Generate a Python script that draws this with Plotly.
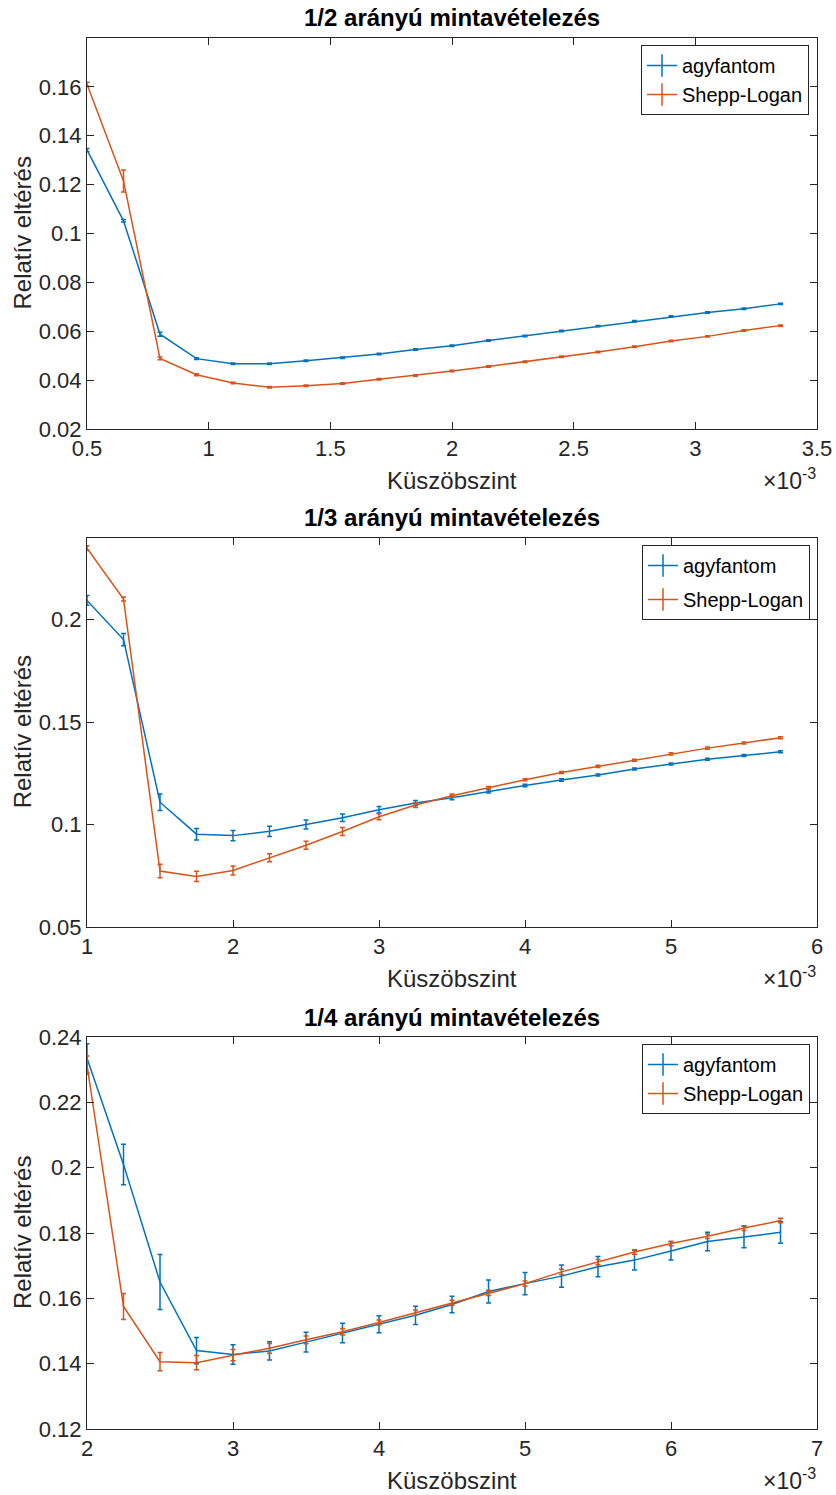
import plotly.graph_objects as go

# ---------------- data (x in units of 1e-3) ----------------
x1 = [0.5, 0.65, 0.8, 0.95, 1.1, 1.25, 1.4, 1.55, 1.7, 1.85, 2.0, 2.15, 2.3, 2.45, 2.6, 2.75, 2.9, 3.05, 3.2, 3.35]
agy1 = [0.1342, 0.1052, 0.0588, 0.0488, 0.0467, 0.0467, 0.0479, 0.0492, 0.0507, 0.0525,
        0.0541, 0.0562, 0.0581, 0.0601, 0.0621, 0.0641, 0.0660, 0.0677, 0.0692, 0.0712]
agy1_err = [0.0006, 0.0005, 0.0008, 0.0004, 0.0003, 0.0003, 0.0003, 0.0003, 0.0003, 0.0003,
            0.0003, 0.0003, 0.0003, 0.0003, 0.0003, 0.0003, 0.0003, 0.0003, 0.0003, 0.0003]
sl1 = [0.1611, 0.1215, 0.0489, 0.0422, 0.0388, 0.0371, 0.0377, 0.0386, 0.0404, 0.0419,
       0.0437, 0.0456, 0.0475, 0.0496, 0.0515, 0.0537, 0.0560, 0.0579, 0.0603, 0.0623]
sl1_err = [0.0008, 0.0045, 0.0006, 0.0004, 0.0003, 0.0003, 0.0003, 0.0003, 0.0003, 0.0003,
           0.0003, 0.0003, 0.0003, 0.0003, 0.0003, 0.0003, 0.0003, 0.0003, 0.0003, 0.0003]

x2 = [1.0, 1.25, 1.5, 1.75, 2.0, 2.25, 2.5, 2.75, 3.0, 3.25, 3.5, 3.75, 4.0, 4.25, 4.5, 4.75, 5.0, 5.25, 5.5, 5.75]
agy2 = [0.2094, 0.1903, 0.1109, 0.0953, 0.0946, 0.0967, 0.1000, 0.1033, 0.1072, 0.1105,
        0.1131, 0.1162, 0.1191, 0.1217, 0.1242, 0.1271, 0.1296, 0.1319, 0.1337, 0.1355]
agy2_err = [0.0024, 0.0030, 0.0040, 0.0028, 0.0025, 0.0025, 0.0022, 0.0018, 0.0016, 0.0012,
            0.0010, 0.0008, 0.0006, 0.0006, 0.0005, 0.0005, 0.0005, 0.0005, 0.0005, 0.0005]
sl2 = [0.2349, 0.2101, 0.0773, 0.0747, 0.0776, 0.0838, 0.0899, 0.0966, 0.1038, 0.1095,
       0.1141, 0.1180, 0.1219, 0.1254, 0.1284, 0.1314, 0.1345, 0.1373, 0.1398, 0.1424]
sl2_err = [0.0012, 0.0010, 0.0033, 0.0025, 0.0022, 0.0020, 0.0020, 0.0020, 0.0015, 0.0012,
           0.0008, 0.0006, 0.0005, 0.0005, 0.0005, 0.0005, 0.0005, 0.0005, 0.0005, 0.0005]

x3 = [2.0, 2.25, 2.5, 2.75, 3.0, 3.25, 3.5, 3.75, 4.0, 4.25, 4.5, 4.75, 5.0, 5.25, 5.5, 5.75, 6.0, 6.25, 6.5, 6.75]
agy3 = [0.2335, 0.2010, 0.1650, 0.1440, 0.1428, 0.1439, 0.1466, 0.1494, 0.1521, 0.1548,
        0.1581, 0.1621, 0.1645, 0.1668, 0.1697, 0.1717, 0.1745, 0.1774, 0.1788, 0.1802]
agy3_err = [0.0044, 0.0062, 0.0084, 0.0040, 0.0030, 0.0028, 0.0030, 0.0030, 0.0026, 0.0028,
            0.0025, 0.0035, 0.0034, 0.0034, 0.0031, 0.0030, 0.0028, 0.0028, 0.0033, 0.0033]
sl3 = [0.2314, 0.1575, 0.1406, 0.1403, 0.1426, 0.1447, 0.1473, 0.1498, 0.1526, 0.1556,
       0.1586, 0.1617, 0.1645, 0.1681, 0.1711, 0.1742, 0.1768, 0.1790, 0.1815, 0.1838]
sl3_err = [0.0028, 0.0040, 0.0028, 0.0022, 0.0017, 0.0015, 0.0012, 0.0010, 0.0008, 0.0008,
           0.0008, 0.0008, 0.0008, 0.0008, 0.0008, 0.0007, 0.0007, 0.0007, 0.0007, 0.0007]

titles = ["1/2 arányú mintavételezés", "1/3 arányú mintavételezés", "1/4 arányú mintavételezés"]
series_names = ["agyfantom", "Shepp-Logan"]
xlabel = "Küszöbszint"
ylabel = "Relatív eltérés"

x_ranges = [[0.5, 3.5], [1, 6], [2, 7]]
y_ranges = [[0.02, 0.18], [0.05, 0.24], [0.12, 0.24]]
x_dticks = [0.5, 1, 1]
y_ticks = [[0.02, 0.04, 0.06, 0.08, 0.1, 0.12, 0.14, 0.16],
           [0.05, 0.1, 0.15, 0.2],
           [0.12, 0.14, 0.16, 0.18, 0.2, 0.22, 0.24]]

# ---------------- style ----------------
W, H = 836, 1495
BLUE = "#0072BD"
ORANGE = "#D95319"
AX = "#262626"
FONT = "Liberation Sans, Arial, Helvetica, sans-serif"

# panel pixel geometry (left, right, top, bottom)
panels_px = [(87, 817, 38, 429), (87, 817, 537.7, 927), (87, 817, 1037, 1429)]

def px_x(p):
    return p / W

def px_y(p):
    return 1 - p / H

fig = go.Figure()

data = [
    (x1, agy1, agy1_err, sl1, sl1_err),
    (x2, agy2, agy2_err, sl2, sl2_err),
    (x3, agy3, agy3_err, sl3, sl3_err),
]

annotations = []
for i, (xs, a, ae, s, se) in enumerate(data):
    k = "" if i == 0 else str(i + 1)
    xa, ya = "x" + k, "y" + k
    leg = "legend" + k
    for name, ys, es, col in [(series_names[0], a, ae, BLUE), (series_names[1], s, se, ORANGE)]:
        fig.add_trace(go.Scatter(
            x=xs, y=ys, mode="lines", name=name, xaxis=xa, yaxis=ya,
            line=dict(color=col, width=1.5),
            error_y=dict(type="data", array=es, visible=True, color=col, thickness=1.5, width=2.5),
            showlegend=False, hoverinfo="skip"))
        # legend entry: line with vertical errorbar-like symbol
        fig.add_trace(go.Scatter(
            x=[None], y=[None], mode="lines+markers", name=name, xaxis=xa, yaxis=ya,
            line=dict(color=col, width=1.5),
            marker=dict(symbol="line-ns", size=20, color=col, line=dict(color=col, width=1.5)),
            legend=leg, legendgroup=name + k, showlegend=True))

    l, r, t, b = panels_px[i]
    fig.layout["xaxis" + k] = dict(
        domain=[px_x(l), px_x(r)], anchor=ya, range=x_ranges[i], dtick=x_dticks[i], tick0=0,
        showline=True, mirror="ticks", linecolor=AX, linewidth=1, ticks="inside", ticklen=7,
        tickcolor=AX, tickwidth=1, showgrid=False, zeroline=False, automargin=False,
        tickfont=dict(family=FONT, size=22, color=AX))
    fig.layout["yaxis" + k] = dict(
        domain=[px_y(b), px_y(t)], anchor=xa, range=y_ranges[i], tickvals=y_ticks[i],
        showline=True, mirror="ticks", linecolor=AX, linewidth=1, ticks="inside", ticklen=7,
        tickcolor=AX, tickwidth=1, showgrid=False, zeroline=False, automargin=False,
        tickfont=dict(family=FONT, size=22, color=AX))

    cx = px_x((l + r) / 2)
    annotations.append(dict(text="<b>" + titles[i] + "</b>", x=cx, y=px_y(t - 20),
                            xref="paper", yref="paper", xanchor="center", yanchor="middle",
                            showarrow=False, font=dict(family=FONT, size=24, color="black")))
    annotations.append(dict(text=xlabel, x=cx, y=px_y(b + 51),
                            xref="paper", yref="paper", xanchor="center", yanchor="middle",
                            showarrow=False, font=dict(family=FONT, size=24, color=AX)))
    annotations.append(dict(text=ylabel, x=px_x(22), y=px_y((t + b) / 2), textangle=-90,
                            xref="paper", yref="paper", xanchor="center", yanchor="middle",
                            showarrow=False, font=dict(family=FONT, size=24, color=AX)))
    annotations.append(dict(text="×10<sup>-3</sup>", x=px_x(r + 1), y=px_y(b + 50),
                            xref="paper", yref="paper", xanchor="right", yanchor="middle",
                            showarrow=False, font=dict(family=FONT, size=23, color=AX)))

legend_pos = [(809, 45, 0), (810, 545, 5), (810, 1044, 0)]
for i, (rx, ty, gap) in enumerate(legend_pos):
    k = "" if i == 0 else str(i + 1)
    fig.layout["legend" + k] = dict(
        x=px_x(rx), y=px_y(ty), xref="paper", yref="paper", xanchor="right", yanchor="top",
        bgcolor="white", bordercolor=AX, borderwidth=1,
        font=dict(family=FONT, size=20, color="black"),
        traceorder="grouped", tracegroupgap=gap, itemwidth=30)

fig.update_layout(
    width=W, height=H, margin=dict(l=0, r=0, t=0, b=0, autoexpand=False),
    paper_bgcolor="white", plot_bgcolor="white",
    annotations=annotations, font=dict(family=FONT))

fig.write_html("out.html")
